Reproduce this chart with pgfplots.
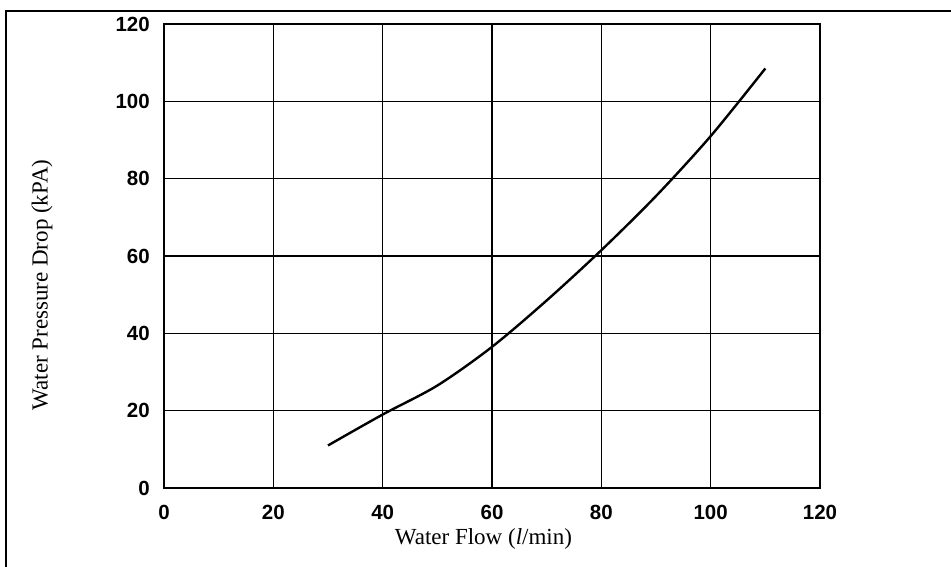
\documentclass[border=0pt]{standalone}
\usepackage{fontspec}
\setmainfont{Liberation Serif}
\newfontfamily\tickfont{Liberation Sans}
\usepackage{pgfplots}
\pgfplotsset{compat=1.18}

\begin{document}
\begin{tikzpicture}[x=1pt,y=1pt]
% page = 951 x 567 (1pt per pixel of the reference)
\useasboundingbox (0,0) rectangle (951,567);
% frame round the figure (only top and left edge show)
\draw[line width=1.8pt] (6,-5) -- (6,556) -- (960,556);

\begin{axis}[
    at={(164pt,79pt)}, anchor=south west,
    scale only axis,
    width=656pt, height=464pt,
    xmin=0, xmax=120, ymin=0, ymax=120,
    xtick={0,20,...,120}, ytick={0,20,...,120},
    major tick length=0pt,
    grid=major,
    grid style={black, line width=1.4pt},
    axis line style={line width=1.5pt},
    /pgf/number format/assume math mode=true,
    ticklabel style={font=\tickfont\bfseries\fontsize{20.5}{24}\selectfont},
    xticklabel style={anchor=center, yshift=-24pt},
    yticklabel style={anchor=east, inner sep=0pt, xshift=-14pt},
    xlabel={Water Flow (\textit{l}/min)},
    ylabel={Water Pressure Drop (kPA)},
    label style={font=\fontsize{23}{26}\selectfont},
    xlabel style={at={(axis description cs:0.487,-0.1228)}, anchor=base},
    ylabel style={at={(axis description cs:-0.186,0.4375)}, anchor=center},
]
\addplot[black, line width=2.4pt, smooth] coordinates {
    (30,11) (40,19) (50,26.5) (60,36.5) (70,48.5) (80,61.5) (90,75.5) (100,91) (110,108.5)
};
\end{axis}
\end{tikzpicture}
\end{document}
